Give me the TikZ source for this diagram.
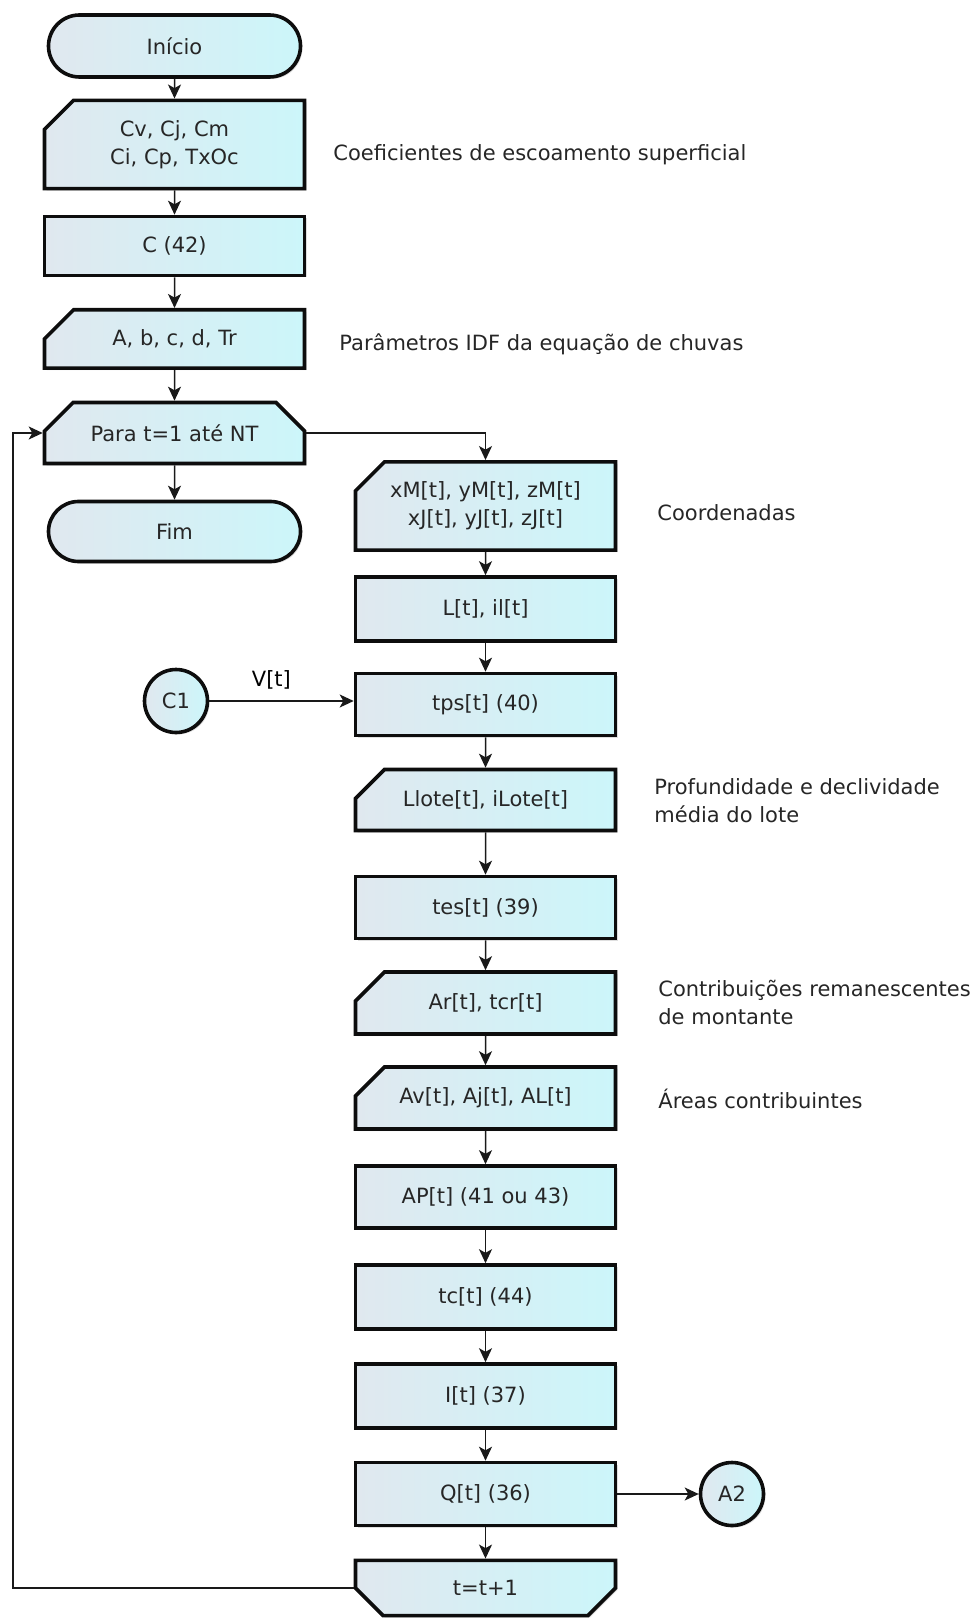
\documentclass[tikz,border=0pt]{standalone}
\usepackage{fontspec}
\setmainfont{DejaVu Sans}
\usetikzlibrary{arrows.meta,shapes.misc,shadows,positioning}
\definecolor{flow-pale-grey}{HTML}{E0E8EF}
\definecolor{flow-pale-cyan}{HTML}{CCF6FA}
\tikzset{every picture/.style={/utils/exec={\fontsize{10.5}{14}\selectfont}}}
\tikzset{
  flowshape/.style={draw=black!95, line width=1.8pt, left color=flow-pale-grey, right color=flow-pale-cyan,
    text=black!85, minimum width=130pt, minimum height=31pt, align=center, inner sep=2pt,
    drop shadow={shadow xshift=1pt, shadow yshift=-1pt, opacity=0.25}},
  procbox/.style={flowshape, rectangle},
  terminal/.style={flowshape, rounded rectangle},
  inbox/.style={flowshape, chamfered rectangle, chamfered rectangle corners=north west,
    chamfered rectangle xsep=6.5pt, chamfered rectangle ysep=8pt},
  loopstart/.style={inbox, chamfered rectangle corners={north west, north east}},
  loopend/.style={inbox, chamfered rectangle corners={south west, south east}},
  connector/.style={flowshape, circle, minimum width=0pt, minimum size=31.5pt, inner sep=0pt},
  note/.style={anchor=west, align=left, text=black!85, inner sep=0pt},
  flow/.style={draw=black!90, line width=0.75pt, -{Stealth[length=7pt, width=6.5pt, inset=1.8pt]}}
}

\begin{document}
\begin{tikzpicture}[x=0.5pt, y=-0.5pt]
    \useasboundingbox (0,0) rectangle (979,1620);

    % left column
    \node[terminal] (inicio) at (174.5,46) {Início};
    \node[inbox, minimum height=37pt] (coef) at (174.5,144.5) {Cv, Cj, Cm\\Ci, Cp, TxOc};
    \node[procbox, minimum height=29.5pt] (c42) at (174.5,246) {C (42)};
    \node[inbox, minimum height=28.5pt] (idf) at (174.5,339) {A, b, c, d, Tr};
    \node[loopstart, minimum height=30.5pt] (para) at (174.5,433) {Para t=1 até NT};
    \node[terminal, minimum height=30pt] (fim) at (174.5,531.5) {Fim};

    % right column
    \node[inbox, minimum height=37.5pt] (coord) at (485.5,506) {xM[t], yM[t], zM[t]\\xJ[t], yJ[t], zJ[t]};
    \node[procbox, minimum height=32pt] (lt) at (485.5,609) {L[t], il[t]};
    \node[procbox] (tps) at (485.5,704.5) {tps[t] (40)};
    \node[inbox, minimum height=30.5pt] (llote) at (485.5,800) {Llote[t], iLote[t]};
    \node[procbox] (tes) at (485.5,907.5) {tes[t] (39)};
    \node[inbox] (ar) at (485.5,1003) {Ar[t], tcr[t]};
    \node[inbox] (av) at (485.5,1098) {Av[t], Aj[t], AL[t]};
    \node[procbox] (ap) at (485.5,1197) {AP[t] (41 ou 43)};
    \node[procbox, minimum height=32pt] (tc) at (485.5,1297) {tc[t] (44)};
    \node[procbox, minimum height=32pt] (it) at (485.5,1396) {I[t] (37)};
    \node[procbox, minimum height=31.5pt] (q) at (485.5,1494) {Q[t] (36)};
    \node[loopend, minimum height=27.5pt] (tt) at (485.5,1588) {t=t+1};

    \node[connector] (c1) at (176,701) {C1};
    \node[connector] (a2) at (732,1494) {A2};

    % notes
    \node[note] (coefnote) at (333,155) {Coeficientes de escoamento superficial};
    \node[note] (idfnote) at (339,344) {Parâmetros IDF da equação de chuvas};
    \node[note] (coordnote) at (657,513) {Coordenadas};
    \node[note] (llotenote) at (654,801) {Profundidade e declividade\\média do lote};
    \node[note] (arnote) at (658,1002) {Contribuições remanescentes\\de montante};
    \node[note] (avnote) at (658,1099) {Áreas contribuintes};

    \coordinate (loopside) at (13,1000);

    \draw[flow] (inicio) -- (coef);
    \draw[flow] (coef) -- (c42);
    \draw[flow] (c42) -- (idf);
    \draw[flow] (idf) -- (para);
    \draw[flow] (para) -- (fim);
    \draw[flow] (para.east) -| (coord.north);
    \draw[flow] (coord) -- (lt);
    \draw[flow] (lt) -- (tps);
    \draw[flow] (tps) -- (llote);
    \draw[flow] (llote) -- (tes);
    \draw[flow] (tes) -- (ar);
    \draw[flow] (ar) -- (av);
    \draw[flow] (av) -- (ap);
    \draw[flow] (ap) -- (tc);
    \draw[flow] (tc) -- (it);
    \draw[flow] (it) -- (q);
    \draw[flow] (q) -- (tt);
    \draw[flow] (q) -- (a2);
    \draw[flow] (c1) -- node[above, pos=0.43, yshift=2pt] {V[t]} (c1 -| tps.west);
    \draw[flow] (tt.west) -| (loopside) |- (para.west);
\end{tikzpicture}
\end{document}
